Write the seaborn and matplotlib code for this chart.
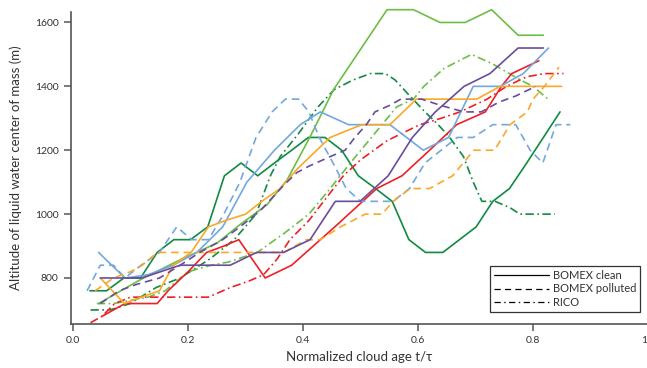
import matplotlib
matplotlib.use("Agg")
import matplotlib.pyplot as plt
from matplotlib.lines import Line2D
import pandas as pd
import seaborn as sns

# ---- BOMEX clean clouds (solid lines) ----
red_clean_t = [0.05, 0.09, 0.12, 0.146, 0.165, 0.20, 0.232, 0.262, 0.288, 0.334, 0.38, 0.455, 0.528, 0.572, 0.62, 0.667, 0.717, 0.745, 0.763, 0.81]
red_clean_z = [680, 720, 720, 720, 760, 820, 880, 900, 920, 800, 840, 960, 1080, 1120, 1200, 1280, 1320, 1400, 1440, 1480]

orange_clean_t = [0.047, 0.089, 0.118, 0.15, 0.174, 0.205, 0.235, 0.265, 0.30, 0.328, 0.36, 0.389, 0.412, 0.447, 0.502, 0.551, 0.597, 0.638, 0.702, 0.743, 0.85]
orange_clean_z = [800, 720, 740, 760, 840, 880, 960, 980, 1000, 1040, 1080, 1140, 1180, 1240, 1280, 1280, 1360, 1360, 1360, 1400, 1400]

blue_clean_t = [0.044, 0.09, 0.13, 0.174, 0.215, 0.26, 0.302, 0.35, 0.395, 0.43, 0.479, 0.515, 0.551, 0.609, 0.653, 0.696, 0.743, 0.783, 0.827]
blue_clean_z = [880, 800, 810, 840, 880, 960, 1100, 1200, 1280, 1320, 1280, 1280, 1280, 1200, 1240, 1400, 1400, 1440, 1520]

dkgreen_clean_t = [0.029, 0.058, 0.088, 0.117, 0.146, 0.175, 0.204, 0.234, 0.263, 0.292, 0.321, 0.35, 0.38, 0.409, 0.438, 0.467, 0.496, 0.526, 0.555, 0.584, 0.613, 0.643, 0.672, 0.701, 0.73, 0.759, 0.789, 0.818, 0.847]
dkgreen_clean_z = [760, 760, 800, 800, 880, 920, 920, 960, 1120, 1160, 1120, 1160, 1200, 1240, 1240, 1200, 1120, 1080, 1040, 920, 880, 880, 920, 960, 1040, 1080, 1160, 1240, 1320]

ltgreen_clean_t = [0.044, 0.117, 0.186, 0.25, 0.29, 0.337, 0.372, 0.412, 0.453, 0.546, 0.592, 0.638, 0.682, 0.728, 0.774, 0.818]
ltgreen_clean_z = [720, 795, 857, 909, 967, 1029, 1107, 1242, 1390, 1640, 1640, 1600, 1600, 1640, 1560, 1560]

purple_clean_t = [0.047, 0.088, 0.119, 0.186, 0.23, 0.273, 0.319, 0.366, 0.412, 0.456, 0.499, 0.548, 0.59, 0.63, 0.68, 0.725, 0.774, 0.818]
purple_clean_z = [800, 800, 800, 840, 840, 840, 880, 880, 920, 1040, 1040, 1120, 1240, 1320, 1400, 1440, 1520, 1520]

# ---- BOMEX polluted clouds (dashed lines) ----
orange_poll_t = [0.038, 0.07, 0.10, 0.12, 0.146, 0.20, 0.25, 0.30, 0.366, 0.406, 0.43, 0.465, 0.508, 0.537, 0.557, 0.586, 0.62, 0.66, 0.697, 0.733, 0.76, 0.79, 0.80, 0.82, 0.845]
orange_poll_z = [760, 800, 820, 840, 880, 880, 880, 880, 880, 920, 920, 960, 1000, 1000, 1040, 1080, 1080, 1120, 1200, 1200, 1280, 1320, 1360, 1400, 1460]

blue_poll_t = [0.024, 0.047, 0.07, 0.09, 0.118, 0.15, 0.18, 0.206, 0.235, 0.262, 0.29, 0.318, 0.346, 0.369, 0.392, 0.41, 0.428, 0.452, 0.475, 0.50, 0.528, 0.556, 0.585, 0.612, 0.64, 0.668, 0.696, 0.73, 0.77, 0.795, 0.817, 0.84, 0.865]
blue_poll_z = [760, 840, 840, 800, 840, 880, 960, 920, 920, 1000, 1100, 1240, 1320, 1360, 1360, 1320, 1240, 1160, 1080, 1040, 1040, 1040, 1080, 1160, 1200, 1240, 1240, 1280, 1280, 1200, 1160, 1280, 1280]

purple_poll_t = [0.047, 0.08, 0.11, 0.15, 0.186, 0.22, 0.26, 0.29, 0.325, 0.366, 0.389, 0.41, 0.447, 0.473, 0.49, 0.51, 0.525, 0.55, 0.57, 0.606, 0.64, 0.68, 0.71, 0.74, 0.77, 0.805]
purple_poll_z = [720, 760, 780, 800, 840, 880, 920, 960, 1010, 1090, 1130, 1150, 1180, 1200, 1240, 1280, 1320, 1340, 1360, 1360, 1340, 1320, 1320, 1350, 1370, 1400]

# ---- RICO clouds (dash-dot lines) ----
red_rico_t = [0.03, 0.05, 0.072, 0.10, 0.117, 0.16, 0.203, 0.235, 0.273, 0.305, 0.331, 0.355, 0.377, 0.41, 0.44, 0.47, 0.50, 0.546, 0.603, 0.64, 0.673, 0.72, 0.754, 0.789, 0.82, 0.853]
red_rico_z = [660, 680, 720, 740, 740, 740, 740, 740, 770, 790, 810, 860, 920, 980, 1050, 1120, 1170, 1230, 1280, 1300, 1320, 1360, 1400, 1430, 1440, 1440]

dkgreen_rico_t = [0.03, 0.064, 0.099, 0.144, 0.186, 0.238, 0.28, 0.318, 0.343, 0.36, 0.391, 0.426, 0.454, 0.487, 0.517, 0.543, 0.56, 0.583, 0.612, 0.635, 0.655, 0.679, 0.696, 0.711, 0.734, 0.76, 0.777, 0.838]
dkgreen_rico_z = [700, 700, 720, 770, 800, 860, 920, 1000, 1120, 1180, 1250, 1336, 1390, 1420, 1440, 1440, 1420, 1375, 1320, 1280, 1240, 1180, 1100, 1040, 1040, 1020, 1000, 1000]

ltgreen_rico_t = [0.041, 0.07, 0.10, 0.13, 0.16, 0.20, 0.24, 0.27, 0.32, 0.367, 0.41, 0.447, 0.482, 0.528, 0.563, 0.592, 0.61, 0.645, 0.693, 0.73, 0.778, 0.80, 0.826]
ltgreen_rico_z = [720, 720, 730, 740, 760, 820, 840, 850, 880, 940, 1000, 1080, 1160, 1260, 1336, 1360, 1400, 1456, 1500, 1470, 1420, 1400, 1360]

cases = ["BOMEX clean", "BOMEX polluted", "RICO"]
palette = {
    "red": "#ED2027",
    "orange": "#F9A829",
    "blue": "#72A8DC",
    "dkgreen": "#118A42",
    "ltgreen": "#6CBE45",
    "purple": "#6A4C9C",
}

series = [
    ("dkgreen", "RICO", dkgreen_rico_t, dkgreen_rico_z),
    ("ltgreen", "RICO", ltgreen_rico_t, ltgreen_rico_z),
    ("red", "RICO", red_rico_t, red_rico_z),
    ("blue", "BOMEX polluted", blue_poll_t, blue_poll_z),
    ("orange", "BOMEX polluted", orange_poll_t, orange_poll_z),
    ("purple", "BOMEX polluted", purple_poll_t, purple_poll_z),
    ("dkgreen", "BOMEX clean", dkgreen_clean_t, dkgreen_clean_z),
    ("blue", "BOMEX clean", blue_clean_t, blue_clean_z),
    ("orange", "BOMEX clean", orange_clean_t, orange_clean_z),
    ("ltgreen", "BOMEX clean", ltgreen_clean_t, ltgreen_clean_z),
    ("purple", "BOMEX clean", purple_clean_t, purple_clean_z),
    ("red", "BOMEX clean", red_clean_t, red_clean_z),
]

rows = []
for cloud, case, ts, zs in series:
    for t, z in zip(ts, zs):
        rows.append({"cloud": cloud, "case": case, "t": t, "z": z, "line": f"{cloud}-{case}"})
df = pd.DataFrame(rows)

sns.set_style("ticks")
plt.rcParams["font.family"] = ["Lato", "DejaVu Sans"]
plt.rcParams["lines.scale_dashes"] = False

dash_styles = {
    "BOMEX clean": "",
    "BOMEX polluted": (5.5, 3.5),
    "RICO": (6, 2.5, 1.2, 2.5),
}

fig = plt.figure(figsize=(6.47, 3.68), dpi=100)
ax = fig.add_axes([0.1097, 0.1196, 0.8918, 0.848])

sns.lineplot(
    data=df, x="t", y="z", hue="cloud", style="case",
    units="line", estimator=None, sort=False,
    palette=palette, dashes=dash_styles, style_order=cases,
    linewidth=1.2, legend=False, ax=ax,
)
for line in ax.get_lines():
    line.set_clip_on(False)

ax.set_xlim(-0.004, 1.0)
ax.set_ylim(656, 1633)
ax.set_xticks([0, 0.2, 0.4, 0.6, 0.8, 1.0])
ax.set_xticklabels(["0.0", "0.2", "0.4", "0.6", "0.8", "1.0"])
ax.set_yticks([800, 1000, 1200, 1400, 1600])

text_color = "#333333"
spine_color = "#555555"
for side in ("top", "right"):
    ax.spines[side].set_visible(False)
for side in ("left", "bottom"):
    ax.spines[side].set_color(spine_color)
    ax.spines[side].set_linewidth(1.2)
ax.tick_params(axis="both", direction="out", length=5, width=1.1,
               color=spine_color, labelsize=7.5, labelcolor=text_color, pad=4)

ax.set_xlabel("Normalized cloud age t/τ", fontsize=9.5, color=text_color, labelpad=4)
ax.set_ylabel("Altitude of liquid water center of mass (m)", fontsize=9.5,
              color=text_color, labelpad=9)

handles = [
    Line2D([], [], color="black", lw=0.9, linestyle="-"),
    Line2D([], [], color="black", lw=0.9, linestyle=(0, (4.5, 3))),
    Line2D([], [], color="black", lw=0.9, linestyle=(0, (4.5, 2.5, 1, 2.5))),
]
leg = ax.legend(handles, cases, loc="lower right", bbox_to_anchor=(0.986, 0.038),
                borderaxespad=0, frameon=True, fancybox=False, fontsize=8,
                handlelength=5.0, handletextpad=0.3, labelspacing=0.25,
                borderpad=0.35)
leg.get_frame().set_edgecolor("black")
leg.get_frame().set_linewidth(0.9)
for txt in leg.get_texts():
    txt.set_color(text_color)

fig.savefig("out.png", dpi=100)
